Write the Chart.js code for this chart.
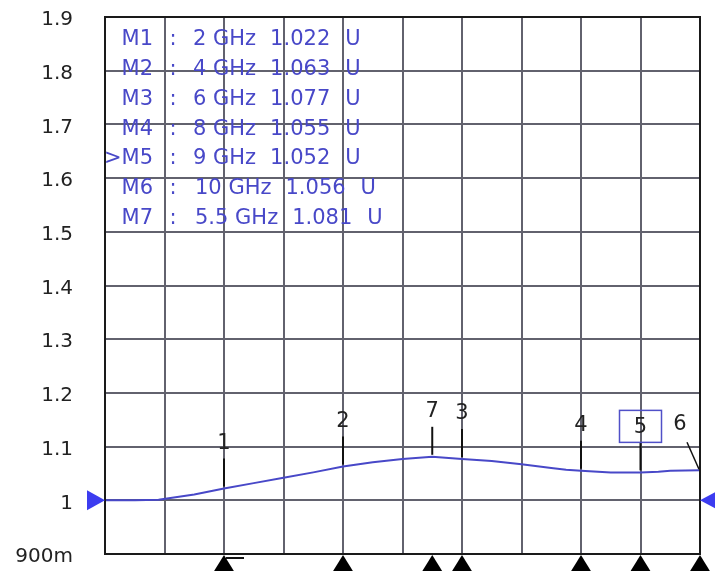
<!DOCTYPE html>
<html>
<head>
<meta charset="utf-8">
<script src="https://cdn.jsdelivr.net/npm/chart.js@4/dist/chart.umd.min.js"></script>
<style>
  html, body { margin: 0; padding: 0; background: #fff; }
  #grafica { display: block; }
</style>
</head>
<body>
<canvas id="grafica" width="715" height="571"></canvas>
<script>
// Trace data: frequency (GHz) and magnitude (U)
const freqGHz = [0, 0.5, 0.9, 1.5, 2, 2.5, 3, 3.5, 4, 4.5, 5, 5.5, 6, 6.5, 7, 7.5, 7.75, 8, 8.5, 9, 9.3, 9.5, 10];
const magU = [1.000, 1.000, 1.001, 1.011, 1.022, 1.032, 1.042, 1.052, 1.063, 1.071, 1.077, 1.081, 1.077, 1.073, 1.067, 1.060, 1.057, 1.055, 1.052, 1.052, 1.053, 1.055, 1.056];

// Markers
const markerNames = ['M1', 'M2', 'M3', 'M4', '>M5', 'M6', 'M7'];
const markerIds = ['1', '2', '3', '4', '5', '6', '7'];
const markerFreq = [2, 4, 6, 8, 9, 10, 5.5];
const markerFreqLabels = ['2 GHz', '4 GHz', '6 GHz', '8 GHz', '9 GHz', '10 GHz', '5.5 GHz'];
const markerVal = [1.022, 1.063, 1.077, 1.055, 1.052, 1.056, 1.081];

// Y axis tick labels (0.9 .. 1.9)
const yTickLabels = ['900m', '1', '1.1', '1.2', '1.3', '1.4', '1.5', '1.6', '1.7', '1.8', '1.9'];

const azul = '#4848c8';
const fuente = '"DejaVu Sans", sans-serif';

// Plugin que dibuja marcadores, tabla y triangulos
const marcadoresPlugin = {
  id: 'marcadores',
  afterDraw(chart) {
    const ctx = chart.ctx;
    const xs = chart.scales.x;
    const ys = chart.scales.y;
    const area = chart.chartArea;
    ctx.save();

    // borde del area
    ctx.strokeStyle = '#1a1a1a';
    ctx.lineWidth = 2;
    ctx.strokeRect(area.left, area.top, area.right - area.left, area.bottom - area.top);

    // triangulos azules de referencia
    const yRef = ys.getPixelForValue(1.0);
    ctx.fillStyle = '#3c3cf0';
    ctx.beginPath();
    ctx.moveTo(area.left - 18, yRef - 10);
    ctx.lineTo(area.left, yRef);
    ctx.lineTo(area.left - 18, yRef + 10);
    ctx.closePath();
    ctx.fill();
    ctx.beginPath();
    ctx.moveTo(area.right + 17, yRef - 9);
    ctx.lineTo(area.right, yRef);
    ctx.lineTo(area.right + 17, yRef + 9);
    ctx.closePath();
    ctx.fill();

    // marcadores
    ctx.font = '21px ' + fuente;
    ctx.textAlign = 'center';
    ctx.textBaseline = 'middle';
    for (let i = 0; i < markerFreq.length; i++) {
      const px = xs.getPixelForValue(markerFreq[i]);
      const py = ys.getPixelForValue(markerVal[i]);
      ctx.strokeStyle = '#111';
      ctx.fillStyle = '#222';
      ctx.lineWidth = 2;

      if (markerIds[i] === '6') {
        // marcador en el borde, linea diagonal
        ctx.lineWidth = 1.5;
        ctx.beginPath();
        ctx.moveTo(px - 13, py - 28);
        ctx.lineTo(px - 1, py - 1);
        ctx.stroke();
        ctx.fillText(markerIds[i], px - 20, py - 46);
      } else {
        ctx.beginPath();
        ctx.moveTo(px, py - 2);
        ctx.lineTo(px, py - 30);
        ctx.stroke();
        if (markerIds[i] === '5') {
          ctx.strokeStyle = '#5050c8';
          ctx.lineWidth = 1.5;
          ctx.strokeRect(px - 21, py - 62, 42, 32);
        }
        ctx.fillText(markerIds[i], px, py - 45);
      }

      // triangulo negro abajo
      ctx.fillStyle = '#000';
      ctx.beginPath();
      ctx.moveTo(px, area.bottom + 1);
      ctx.lineTo(px - 13, area.bottom + 22);
      ctx.lineTo(px + 13, area.bottom + 22);
      ctx.closePath();
      ctx.fill();
    }

    // banderita del marcador 1
    const p1 = xs.getPixelForValue(markerFreq[0]);
    ctx.strokeStyle = '#111';
    ctx.lineWidth = 2;
    ctx.beginPath();
    ctx.moveTo(p1 + 2, area.bottom + 4);
    ctx.lineTo(p1 + 20, area.bottom + 4);
    ctx.stroke();

    // tabla de marcadores
    ctx.font = '21px ' + fuente;
    ctx.fillStyle = azul;
    ctx.textBaseline = 'middle';
    for (let i = 0; i < markerNames.length; i++) {
      const y = area.top + 23 + i * 29.7;
      ctx.textAlign = 'right';
      ctx.fillText(markerNames[i], 153, y);
      ctx.textAlign = 'center';
      ctx.fillText(':', 173, y);
      ctx.textAlign = 'left';
      const xf = markerFreqLabels[i].length > 5 ? 195 : 193;
      ctx.fillText(markerFreqLabels[i], xf, y);
      const xv = xf + ctx.measureText(markerFreqLabels[i]).width + 14;
      const valTxt = markerVal[i].toFixed(3);
      ctx.fillText(valTxt, xv, y);
      const xu = xv + ctx.measureText(valTxt).width + 15;
      ctx.fillText('U', xu, y);
    }

    ctx.restore();
  }
};

const ctx = document.getElementById('grafica').getContext('2d');

const puntos = freqGHz.map((f, i) => ({ x: f, y: magU[i] }));

const grafica = new Chart(ctx, {
  type: 'line',
  data: {
    datasets: [{
      data: puntos,
      borderColor: azul,
      borderWidth: 2,
      pointRadius: 0,
      tension: 0,
      fill: false
    }]
  },
  options: {
    responsive: false,
    animation: false,
    devicePixelRatio: 1,
    layout: { padding: { top: 17, right: 15, bottom: 17, left: 0 } },
    plugins: {
      legend: { display: false },
      tooltip: { enabled: false }
    },
    scales: {
      x: {
        type: 'linear',
        min: 0,
        max: 10,
        ticks: { display: false, stepSize: 1 },
        grid: { color: '#62626e', lineWidth: 2, drawTicks: false },
        border: { display: false },
        afterFit(scale) {
          scale.height = 0;
          scale.paddingLeft = 0;
          scale.paddingRight = 0;
        }
      },
      y: {
        min: 0.9,
        max: 1.9,
        ticks: {
          stepSize: 0.1,
          padding: 32,
          labelOffset: 3,
          color: '#222',
          font: { family: 'DejaVu Sans', size: 20 },
          callback: (v, i) => yTickLabels[i]
        },
        grid: { color: '#62626e', lineWidth: 2, drawTicks: false },
        border: { display: false },
        afterFit(scale) {
          scale.width = 105;
          scale.paddingTop = 0;
          scale.paddingBottom = 0;
        }
      }
    }
  },
  plugins: [marcadoresPlugin]
});
</script>
</body>
</html>
